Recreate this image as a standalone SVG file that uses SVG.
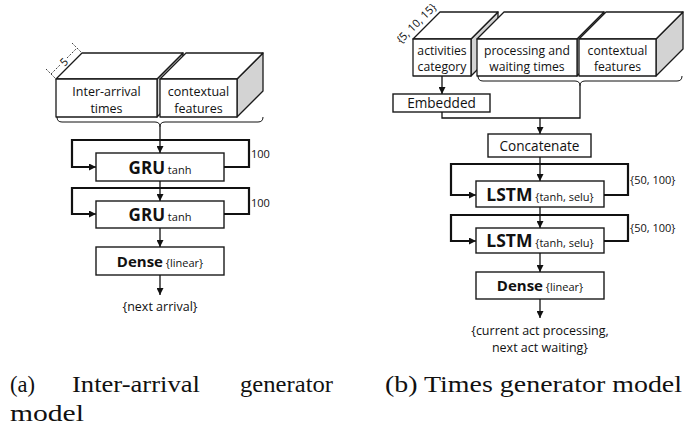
<svg xmlns="http://www.w3.org/2000/svg" width="685" height="428" viewBox="0 0 685 428">
<defs>
<marker id="ah" viewBox="0 0 10 10" refX="10" refY="5" markerWidth="7" markerHeight="7" markerUnits="userSpaceOnUse" orient="auto">
<path d="M0,0 L10,5 L0,10 z" fill="#111"/>
</marker>
</defs>
<style>
.face{fill:#fff;stroke:#1a1a1a;stroke-width:1.3;stroke-linejoin:round}
.side{fill:#d3d3d3;stroke:#1a1a1a;stroke-width:1.3;stroke-linejoin:round}
.box{fill:#fff;stroke:#1a1a1a;stroke-width:1.4}
.t{font-family:"Open Sans",sans-serif;font-size:12.5px;fill:#111;text-anchor:middle}
.t2{font-family:"Open Sans",sans-serif;font-size:12.2px;fill:#111;text-anchor:middle}
.lb{font-family:"Open Sans",sans-serif;font-size:13.6px;fill:#111;text-anchor:middle}
.bold{font-family:"Open Sans",sans-serif;font-weight:bold;fill:#111}
.sm{font-family:"Open Sans",sans-serif;font-size:11px;fill:#111}
.ln{fill:none;stroke:#111;stroke-width:1.3}
.loop{fill:none;stroke:#111;stroke-width:2.2;stroke-linejoin:miter}
.brace{fill:none;stroke:#111;stroke-width:1}
.dim{fill:none;stroke:#111;stroke-width:0.8;stroke-dasharray:2 1.5}
.cap{font-family:"Liberation Serif",serif;font-size:23px;fill:#111}
</style>

<!-- Left diagram: input blocks -->
<g id="inter-arrival">
<polygon class="side" points="157,79 183,53 183,91 157,117"/>
<polygon class="face" points="56,79 82,53 183,53 157,79"/>
<rect class="face" x="56" y="79" width="101" height="38"/>
<text class="t" x="106.5" y="96">Inter-arrival</text>
<text class="t" x="106.5" y="113">times</text>
</g>
<g id="contextual-a">
<polygon class="side" points="237,79 263,53 263,91 237,117"/>
<polygon class="face" points="160,79 186,53 263,53 237,79"/>
<rect class="face" x="160" y="79" width="77" height="38"/>
<text class="t" x="198.5" y="96">contextual</text>
<text class="t" x="198.5" y="113">features</text>
</g>
<g id="dim-5">
<line class="dim" x1="51" y1="74" x2="60" y2="65"/>
<line class="dim" x1="67" y1="58" x2="77" y2="48"/>
<line class="dim" x1="46" y1="69" x2="55" y2="78"/>
<line class="dim" x1="72" y1="43" x2="81" y2="52"/>
<text class="sm" x="0" y="0" text-anchor="middle" dominant-baseline="central" transform="translate(63.5,61.5) rotate(-45)">5</text>
</g>
<g id="gru1">
<rect class="box" x="96" y="153" width="128" height="28"/>
<text x="160" y="173.5" text-anchor="middle"><tspan class="bold" font-size="17px">GRU</tspan><tspan class="sm" font-size="11.5px"> tanh</tspan></text>
</g>
<g id="gru2">
<rect class="box" x="96" y="201" width="128" height="27"/>
<text x="160" y="221" text-anchor="middle"><tspan class="bold" font-size="17px">GRU</tspan><tspan class="sm" font-size="11.5px"> tanh</tspan></text>
</g>
<g id="dense-a">
<rect class="box" x="96" y="247" width="128" height="28"/>
<text x="160" y="266.5" text-anchor="middle"><tspan class="bold" font-size="15px">Dense</tspan><tspan class="sm" font-size="11px"> {linear}</tspan></text>
</g>
<g id="out-a">
<text class="t" x="160" y="311" font-size="12px">{next arrival}</text>
</g>
<g id="labels-a">
<text class="sm" x="251" y="158">100</text>
<text class="sm" x="251" y="207">100</text>
</g>

<!-- Right diagram -->
<g id="activities">
<polygon class="side" points="471,39 498,12 498,49 471,76"/>
<polygon class="face" points="413,39 440,12 498,12 471,39"/>
<rect class="face" x="413" y="39" width="58" height="37"/>
<text class="t2" x="442" y="54.5">activities</text>
<text class="t2" x="442" y="71">category</text>
</g>
<g id="dim-cat">
<text class="sm" x="0" y="0" font-size="10px" text-anchor="middle" transform="translate(419,26) rotate(-45)">{5, 10, 15}</text>
</g>
<g id="processing">
<polygon class="side" points="577,39 604,12 604,49 577,76"/>
<polygon class="face" points="477,39 504,12 604,12 577,39"/>
<rect class="face" x="477" y="39" width="100" height="37"/>
<text class="t2" x="527" y="54.5">processing and</text>
<text class="t2" x="527" y="71">waiting times</text>
</g>
<g id="contextual-b">
<polygon class="side" points="656,39 683,12 683,49 656,76"/>
<polygon class="face" points="579,39 606,12 683,12 656,39"/>
<rect class="face" x="579" y="39" width="77" height="37"/>
<text class="t2" x="617.5" y="54.5">contextual</text>
<text class="t2" x="617.5" y="71">features</text>
</g>
<g id="embedded">
<rect class="box" x="393" y="94" width="97" height="18"/>
<text class="lb" x="441.5" y="108">Embedded</text>
</g>
<g id="concatenate">
<rect class="box" x="488" y="134" width="103" height="23"/>
<text class="lb" x="539.5" y="150.5">Concatenate</text>
</g>
<g id="lstm1">
<rect class="box" x="476" y="181" width="128" height="26"/>
<text x="540" y="200.5" text-anchor="middle"><tspan class="bold" font-size="17.5px">LSTM</tspan><tspan class="sm" font-size="10.5px"> {tanh, selu}</tspan></text>
</g>
<g id="lstm2">
<rect class="box" x="476" y="228" width="128" height="25"/>
<text x="540" y="247" text-anchor="middle"><tspan class="bold" font-size="17.5px">LSTM</tspan><tspan class="sm" font-size="10.5px"> {tanh, selu}</tspan></text>
</g>
<g id="dense-b">
<rect class="box" x="476" y="272" width="128" height="27"/>
<text x="540" y="291" text-anchor="middle"><tspan class="bold" font-size="15px">Dense</tspan><tspan class="sm" font-size="11px"> {linear}</tspan></text>
</g>
<g id="out-b">
<text class="t" x="540" y="335" font-size="12px">{current act processing,</text>
<text class="t" x="540" y="352" font-size="12px">next act waiting}</text>
</g>
<g id="labels-b">
<text class="sm" x="630" y="184">{50, 100}</text>
<text class="sm" x="630" y="232">{50, 100}</text>
</g>

<!-- Connectors -->
<g id="connectors">
<path class="brace" d="M57,117 q0,5 5,5 H155 q5,0 5,5 q0,-5 5,-5 H258 q5,0 5,-5"/>
<path class="ln" d="M160,127 V153" marker-end="url(#ah)"/>
<path class="loop" d="M224,167 H249 V140 H72 V167 H93"/>
<path class="ln" d="M90,167 H96" marker-end="url(#ah)"/>
<path class="ln" d="M160,181 V201" marker-end="url(#ah)"/>
<path class="loop" d="M224,214 H249 V188 H72 V214 H93"/>
<path class="ln" d="M90,214 H96" marker-end="url(#ah)"/>
<path class="ln" d="M160,228 V247" marker-end="url(#ah)"/>
<path class="ln" d="M160,275 V295" marker-end="url(#ah)"/>

<path class="brace" d="M478,76 q0,5 5,5 H575 q5,0 5,5 q0,-5 5,-5 H677 q5,0 5,-5"/>
<path class="ln" d="M442,76 V94" marker-end="url(#ah)"/>
<path class="ln" d="M442,112 V118 H580 V86"/>
<path class="ln" d="M540,118 V134" marker-end="url(#ah)"/>
<path class="ln" d="M540,157 V181" marker-end="url(#ah)"/>
<path class="loop" d="M604,195 H628 V164 H451 V195 H473"/>
<path class="ln" d="M470,195 H476" marker-end="url(#ah)"/>
<path class="ln" d="M540,207 V228" marker-end="url(#ah)"/>
<path class="loop" d="M604,241 H628 V215 H451 V241 H473"/>
<path class="ln" d="M470,241 H476" marker-end="url(#ah)"/>
<path class="ln" d="M540,253 V272" marker-end="url(#ah)"/>
<path class="ln" d="M540,299 V318" marker-end="url(#ah)"/>
</g>

<!-- Captions -->
<g id="captions">
<text class="cap" x="10" y="392" textLength="25" lengthAdjust="spacingAndGlyphs">(a)</text>
<text class="cap" x="72" y="392" textLength="128" lengthAdjust="spacingAndGlyphs">Inter-arrival</text>
<text class="cap" x="240" y="392" textLength="93" lengthAdjust="spacingAndGlyphs">generator</text>
<text class="cap" x="10" y="421" textLength="74" lengthAdjust="spacingAndGlyphs">model</text>
<text class="cap" x="385" y="392" textLength="297" lengthAdjust="spacingAndGlyphs">(b) Times generator model</text>
</g>
</svg>
